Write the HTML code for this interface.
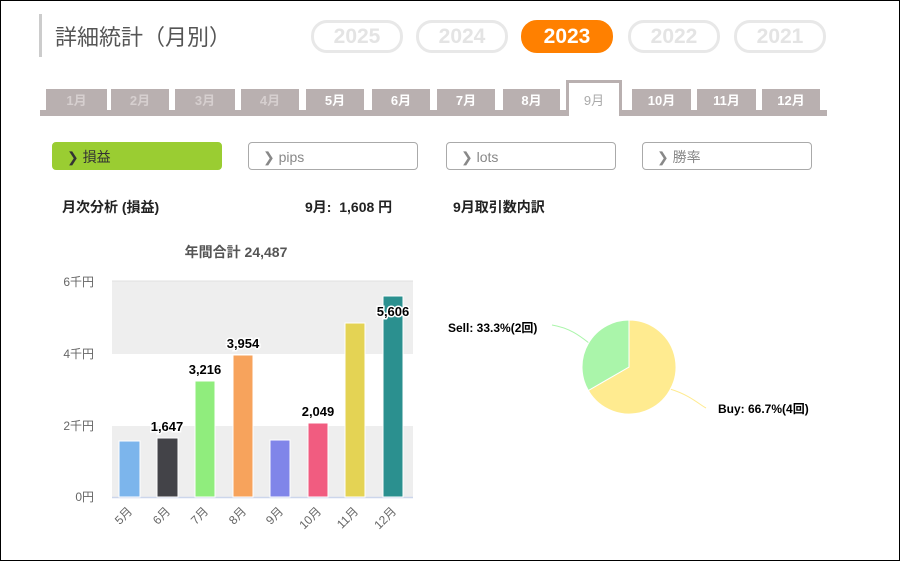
<!DOCTYPE html>
<html><head><meta charset="utf-8"><style>
body{margin:0;width:900px;height:561px;background:#fff;overflow:hidden;font-family:"Liberation Sans","Noto Sans CJK JP",sans-serif;}
.frame{position:absolute;left:0;top:0;width:898px;height:559px;border:1px solid #000;}
.abs{position:absolute;}
.pill{position:absolute;top:20px;width:86px;height:27px;border:3px solid #e8e8e8;border-radius:16px;color:#e4e4e4;font-weight:bold;font-size:21px;text-align:center;line-height:28px;}
.tab{position:absolute;top:89px;height:23px;background:#b9b0b0;color:#fff;font-weight:bold;font-size:13px;text-align:center;line-height:24px;}
.tab.dim{color:#d6cfcf;}
.btn{position:absolute;top:142px;width:170px;height:28px;border:1px solid #aaa;border-radius:4px;font-size:14px;color:#888;line-height:28px;box-sizing:border-box;padding-left:14px;}
</style></head><body>
<div class="frame"></div>
<div class="abs" style="left:39px;top:14px;width:3px;height:43px;background:#ccc"></div>
<div class="abs" style="left:55px;top:20px;font-size:22px;color:#555">詳細統計（月別）</div>
<div class="pill" style="left:311px">2025</div>
<div class="pill" style="left:416px">2024</div>
<div class="pill" style="left:521px;background:#ff8000;border-color:#ff8000;color:#fff">2023</div>
<div class="pill" style="left:628px">2022</div>
<div class="pill" style="left:734px">2021</div>
<div class="abs" style="left:40px;top:110px;width:787px;height:6px;background:#b9b0b0"></div>
<div class="tab dim" style="left:46px;width:61px">1月</div>
<div class="tab dim" style="left:111px;width:58px">2月</div>
<div class="tab dim" style="left:175px;width:60px">3月</div>
<div class="tab dim" style="left:241px;width:58px">4月</div>
<div class="tab" style="left:306px;width:58px">5月</div>
<div class="tab" style="left:372px;width:58px">6月</div>
<div class="tab" style="left:437px;width:58px">7月</div>
<div class="tab" style="left:503px;width:57px">8月</div>
<div class="abs" style="left:566px;top:80px;width:50px;height:33px;border:3px solid #b9b0b0;border-bottom:none;background:#fff;color:#aaa;font-size:13px;text-align:center;line-height:36px;">9月</div>
<div class="abs" style="left:569px;top:110px;width:50px;height:6px;background:#fff"></div>
<div class="tab" style="left:632px;width:59px">10月</div>
<div class="tab" style="left:697px;width:59px">11月</div>
<div class="tab" style="left:762px;width:58px">12月</div>
<div class="btn" style="left:52px;background:#9acd32;border-color:#9acd32;color:#333">❯ 損益</div>
<div class="btn" style="left:248px">❯ pips</div>
<div class="btn" style="left:446px">❯ lots</div>
<div class="btn" style="left:642px">❯ 勝率</div>
<div class="abs" style="left:62px;top:197px;font-size:14px;font-weight:bold;color:#222">月次分析 (損益)</div>
<div class="abs" style="left:305px;top:197px;font-size:14px;font-weight:bold;color:#222">9月:&nbsp; 1,608 円</div>
<div class="abs" style="left:453px;top:197px;font-size:14px;font-weight:bold;color:#222">9月取引数内訳</div>
<svg class="abs" style="left:0;top:0" width="900" height="561" font-family="Liberation Sans, Noto Sans CJK JP, sans-serif">
<text x="236" y="257" text-anchor="middle" font-size="14" font-weight="bold" fill="#555">年間合計 24,487</text>
<rect x="112" y="281" width="301" height="73" fill="#eeeeee"/>
<rect x="112" y="426" width="301" height="71" fill="#eeeeee"/>
<line x1="112" y1="281" x2="413" y2="281" stroke="#e0e0e0"/>
<line x1="112" y1="497.5" x2="413" y2="497.5" stroke="#ccd6eb" stroke-width="1.5"/>
<g font-size="12" fill="#666" text-anchor="end">
<text x="94" y="286">6千円</text><text x="94" y="358">4千円</text><text x="94" y="430">2千円</text><text x="94" y="501">0円</text>
</g>
<g stroke="#fff" stroke-width="1">
<rect x="119" y="441" width="21" height="56" fill="#7cb5ec"/>
<rect x="157" y="438" width="21" height="59" fill="#434348"/>
<rect x="195" y="381" width="20" height="116" fill="#90ed7d"/>
<rect x="233" y="355" width="20" height="142" fill="#f7a35c"/>
<rect x="270" y="440" width="20" height="57" fill="#8085e9"/>
<rect x="308" y="423" width="20" height="74" fill="#f15c80"/>
<rect x="345" y="323" width="20" height="174" fill="#e4d354"/>
<rect x="383" y="296" width="20" height="201" fill="#2b908f"/>
</g>
<g font-size="13" font-weight="bold" fill="#000" text-anchor="middle" stroke="#fff" stroke-width="3" paint-order="stroke">
<text x="167" y="431">1,647</text><text x="205" y="374">3,216</text><text x="243" y="348">3,954</text><text x="318" y="416">2,049</text><text x="393" y="316">5,606</text>
</g>
<g font-size="12" fill="#666" text-anchor="end">
<text transform="translate(133,512) rotate(-45)">5月</text>
<text transform="translate(171,512) rotate(-45)">6月</text>
<text transform="translate(209,512) rotate(-45)">7月</text>
<text transform="translate(247,512) rotate(-45)">8月</text>
<text transform="translate(284,512) rotate(-45)">9月</text>
<text transform="translate(322,512) rotate(-45)">10月</text>
<text transform="translate(359,512) rotate(-45)">11月</text>
<text transform="translate(397,512) rotate(-45)">12月</text>
</g>
<path d="M552 325 C570 328 580 336 589 343" fill="none" stroke="#aaf5aa"/>
<path d="M670 389 C690 395 700 405 706 408" fill="none" stroke="#ffeb90"/>
<path d="M629 367 L629 320 A47 47 0 1 1 588.3 390.5 Z" fill="#ffeb90" stroke="#fff"/>
<path d="M629 367 L588.3 390.5 A47 47 0 0 1 629 320 Z" fill="#aaf5aa" stroke="#fff"/>
<text x="448" y="332" font-size="12" font-weight="bold" fill="#000">Sell: 33.3%(2回)</text>
<text x="718" y="413" font-size="12" font-weight="bold" fill="#000">Buy: 66.7%(4回)</text>
</svg>
</body></html>
